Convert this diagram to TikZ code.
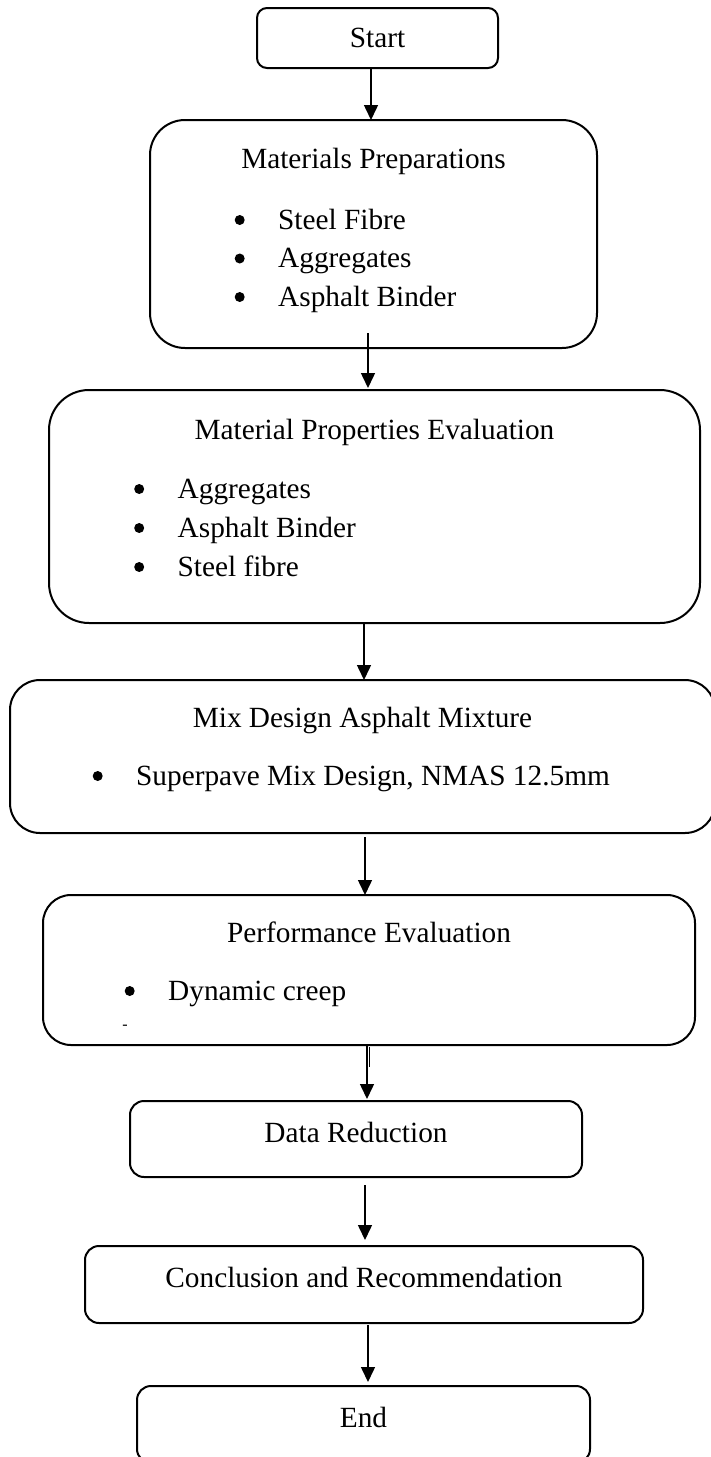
\documentclass[tikz,border=0pt]{standalone}
\usepackage{fontspec}
\setmainfont{Liberation Serif}
\usetikzlibrary{arrows.meta, positioning}

\begin{document}
\begin{tikzpicture}[
    x=1pt, y=1pt,
    node distance=50pt,
    stage/.style={rectangle, draw=black, line width=2pt, inner sep=0pt, outer sep=0pt, font=\fontsize{29.3}{38.5}\selectfont},
    heading/.style={anchor=base, inner sep=0pt, font=\fontsize{29.3}{38.5}\selectfont},
    entry/.style={anchor=base west, inner sep=0pt, text height=21pt, text depth=7pt, font=\fontsize{29.3}{38.5}\selectfont,
      execute at begin node={\hspace*{45pt}},
      path picture={\fill ([xshift=6.5pt, yshift=16pt]path picture bounding box.south west) circle (5pt);}},
    arrow/.style={-{Triangle[length=15pt, width=14pt]}, line width=1.5pt}
  ]
  \useasboundingbox (0,0) rectangle (710,-1457);

  \node (start) [stage, minimum width=241pt, minimum height=60pt, rounded corners=10pt] at (377.5,-38) {Start};
  \node (prep) [stage, minimum width=447pt, minimum height=228pt, rounded corners=35pt, below=52pt of start, xshift=-4pt] {};
  \node (matprop) [stage, minimum width=651pt, minimum height=233pt, rounded corners=40pt, below=42pt of prep, xshift=1pt] {};
  \node (mixdesign) [stage, minimum width=705pt, minimum height=153pt, rounded corners=30pt, below=57pt of matprop, xshift=-12pt] {};
  \node (perform) [stage, minimum width=652pt, minimum height=150pt, rounded corners=28pt, below=62pt of mixdesign, xshift=6.5pt] {};
  \node (reduction) [stage, minimum width=452pt, minimum height=76pt, rounded corners=14pt, text depth=14pt, below=56pt of perform, xshift=-13pt] {Data Reduction};
  \node (conclusion) [stage, minimum width=558pt, minimum height=77pt, rounded corners=14pt, text depth=14pt, below=69pt of reduction, xshift=8pt] {Conclusion and Recommendation};
  \node (finish) [stage, minimum width=453pt, minimum height=77pt, rounded corners=14pt, text depth=14pt, below=63pt of conclusion, xshift=-0.5pt] {End};

  % box contents
  \node (preptitle) [heading] at ([yshift=-48pt]prep.north) {Materials Preparations};
  \node (prep1) [entry] at ([xshift=83pt, yshift=-109pt]prep.north west) {Steel Fibre};
  \node (prep2) [entry] at ([yshift=-38.5pt]prep1.base west) {Aggregates};
  \node (prep3) [entry] at ([yshift=-38.5pt]prep2.base west) {Asphalt Binder};

  \node (matproptitle) [heading] at ([yshift=-49pt]matprop.north) {Material Properties Evaluation};
  \node (matprop1) [entry] at ([xshift=83.5pt, yshift=-108pt]matprop.north west) {Aggregates};
  \node (matprop2) [entry] at ([yshift=-39pt]matprop1.base west) {Asphalt Binder};
  \node (matprop3) [entry] at ([yshift=-39pt]matprop2.base west) {Steel fibre};

  \node (mixtitle) [heading] at ([yshift=-47pt]mixdesign.north) {Mix Design Asphalt Mixture};
  \node (mix1) [entry] at ([xshift=81pt, yshift=-105pt]mixdesign.north west) {Superpave Mix Design, NMAS 12.5mm};

  \node (performtitle) [heading] at ([yshift=-47pt]perform.north) {Performance Evaluation};
  \node (perform1) [entry] at ([xshift=80pt, yshift=-105pt]perform.north west) {Dynamic creep};
  \node (performdash) [inner sep=0pt, font=\fontsize{16}{16}\selectfont] at ([xshift=82pt, yshift=-132pt]perform.north west) {-};

  % connectors
  \draw [arrow] ([xshift=-6.5pt]start.south) -- ([xshift=-6.5pt]start.south |- prep.north);
  \draw [arrow] ([xshift=-5.5pt, yshift=15pt]prep.south) -- ([xshift=-5.5pt, yshift=2pt]prep.south |- matprop.north);
  \draw [arrow] ([xshift=-10.5pt]matprop.south) -- ([xshift=-10.5pt]matprop.south |- mixdesign.north);
  \draw [arrow] ([xshift=2.5pt, yshift=-4pt]mixdesign.south) -- ([xshift=2.5pt]mixdesign.south |- perform.north);
  \draw [arrow] ([xshift=-2pt]perform.south) -- ([xshift=-2pt, yshift=2pt]perform.south |- reduction.north);
  \draw [line width=0.8pt] ([yshift=-2pt]perform.south) -- ([yshift=-22pt]perform.south);
  \draw [arrow] ([xshift=9pt, yshift=-8pt]reduction.south) -- ([xshift=9pt, yshift=6pt]reduction.south |- conclusion.north);
  \draw [arrow] ([xshift=4pt, yshift=-2pt]conclusion.south) -- ([xshift=4pt, yshift=4pt]conclusion.south |- finish.north);
\end{tikzpicture}
\end{document}
